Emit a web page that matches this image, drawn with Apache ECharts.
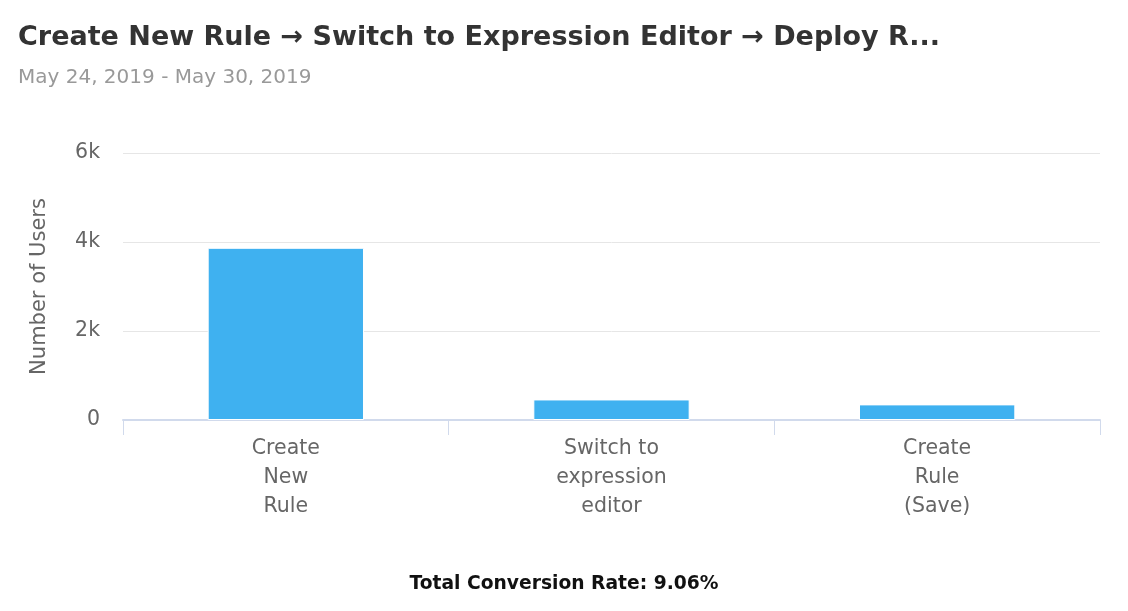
<!DOCTYPE html>
<html>
<head>
<meta charset="utf-8">
<script src="https://cdn.jsdelivr.net/npm/echarts@6/dist/echarts.min.js"></script>
<style>html,body{margin:0;padding:0;background:#fff;}#c{width:1128px;height:611px;}</style>
</head>
<body>
<div id="c"></div>
<script>
var categories = ['Create\nNew\nRule', 'Switch to\nexpression\neditor', 'Create\nRule\n(Save)'];
var users = [3870, 462, 351];
var yTicks = [0, 2000, 4000, 6000];
var titleText = 'Create New Rule \u2192 Switch to Expression Editor \u2192 Deploy R...';
var subtitleText = 'May 24, 2019 - May 30, 2019';
var footerText = 'Total Conversion Rate: 9.06%';

var FONT = 'DejaVu Sans';
var chart = echarts.init(document.getElementById('c'), null, {renderer: 'canvas'});
chart.setOption({
  animation: false,
  title: [{
    text: titleText,
    subtext: subtitleText,
    left: 18, top: 24,
    padding: 0,
    itemGap: 17,
    textStyle: {fontFamily: FONT, fontWeight: 'bold', fontSize: 27, color: '#333333'},
    subtextStyle: {fontFamily: FONT, fontSize: 20, color: '#999999'}
  }, {
    text: footerText,
    left: 'center', top: 575,
    padding: 0,
    textStyle: {fontFamily: FONT, fontWeight: 'bold', fontSize: 18.7, color: '#111111'}
  }],
  grid: {left: 123, right: 28, top: 153, bottom: 191, containLabel: false},
  xAxis: {
    type: 'category',
    data: categories,
    axisLine: {lineStyle: {color: '#d1daec', width: 2}},
    axisTick: {show: true, length: 15, lineStyle: {color: '#d1daec', width: 1}},
    axisLabel: {fontFamily: FONT, fontSize: 20.5, color: '#666666', lineHeight: 29, margin: 14}
  },
  yAxis: {
    type: 'value',
    min: 0, max: 6000, interval: 2000,
    name: 'Number of Users',
    nameLocation: 'middle',
    nameGap: 73,
    nameTextStyle: {fontFamily: FONT, fontSize: 21, color: '#666666'},
    axisLine: {show: false},
    axisTick: {show: false},
    axisLabel: {
      fontFamily: FONT, fontSize: 20.5, color: '#666666', margin: 23,
      formatter: function (v) { return yTicks.indexOf(v) >= 0 ? (v === 0 ? '0' : (v / 1000) + 'k') : ''; }
    },
    splitLine: {lineStyle: {color: '#e6e6e6', width: 1}}
  },
  series: [{
    type: 'bar',
    data: users,
    barWidth: '48%',
    itemStyle: {color: '#3fb1f0', borderColor: '#ffffff', borderWidth: 1}
  }]
});
</script>
</body>
</html>
